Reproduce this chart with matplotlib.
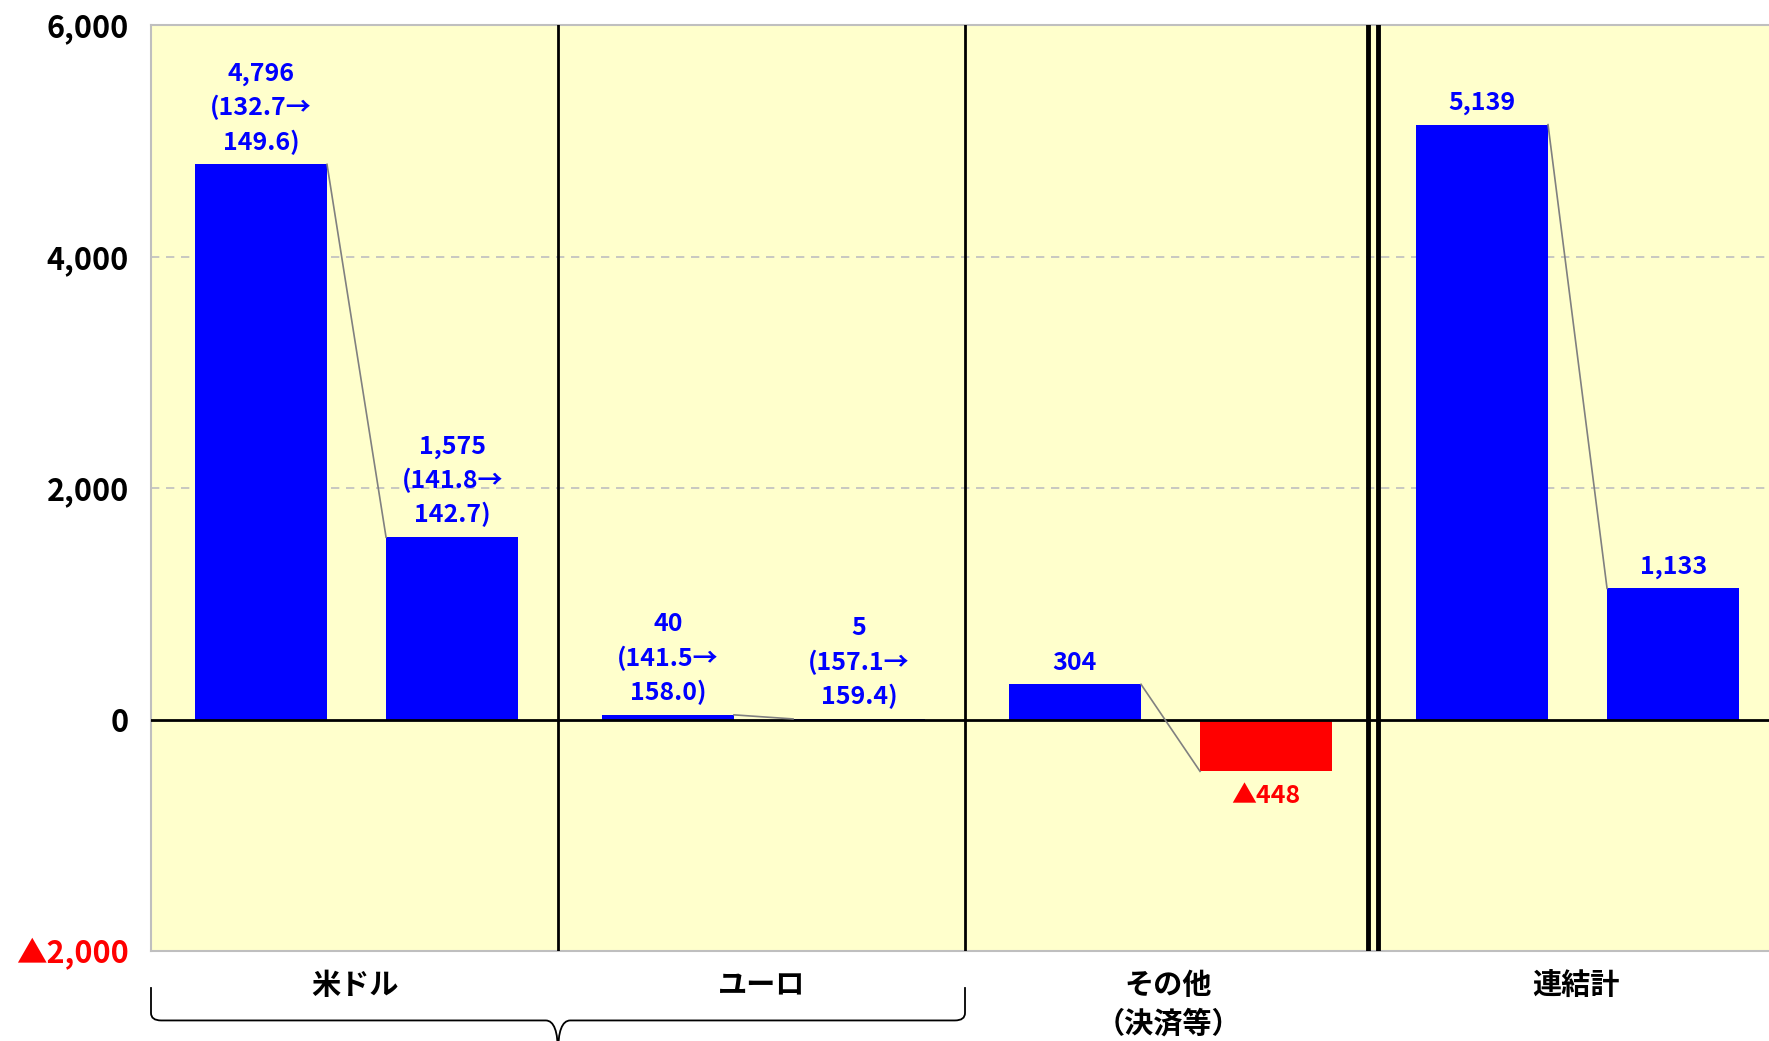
import matplotlib
matplotlib.use("Agg")
import matplotlib.pyplot as plt
from matplotlib.path import Path
import matplotlib.patches as patches
import matplotlib.transforms as mtransforms

plt.rcParams['font.family'] = ['Noto Sans CJK JP', 'DejaVu Sans']

# ---------------------------------------------------------------------------
# Data
# ---------------------------------------------------------------------------
categories = ['米ドル', 'ユーロ', 'その他\n（決済等）', '連結計']
first_values = [4796, 40, 304, 5139]
second_values = [1575, 5, -448, 1133]
first_rates = ['132.7→\n149.6', '141.5→\n158.0', None, None]
second_rates = ['141.8→\n142.7', '157.1→\n159.4', None, None]

y_ticks = [-2000, 0, 2000, 4000, 6000]

# ---------------------------------------------------------------------------
# Style
# ---------------------------------------------------------------------------
BG = '#FFFFCC'
BLUE = '#0000FF'
RED = '#FF0000'
GRID = '#BFBFBF'
BAR_W = 0.325
OFFSETS = (0.27, 0.74)


def fmt_value(v):
    return f'▲{abs(v):,}' if v < 0 else f'{v:,}'


fig = plt.figure(figsize=(17.69, 10.41), dpi=100)
ax = fig.add_axes([151 / 1769, 90 / 1041, 1618 / 1769, 926 / 1041])
ax.set_facecolor(BG)
ax.set_xlim(0, 1618 / 407)
ax.set_ylim(-2000, 6000)

# grid + zero line
for yv in (2000, 4000):
    ax.axhline(yv, color=GRID, lw=1.2, ls=(0, (5, 4)), zorder=1)
ax.axhline(0, color='black', lw=2, zorder=4)

# group separators
ax.axvline(1, color='black', lw=2, zorder=4)
ax.axvline(2, color='black', lw=2, zorder=4)
ax.axvline(2.99, color='black', lw=3.5, zorder=4)
ax.axvline(3.015, color='black', lw=3.5, zorder=4)

for g in range(len(categories)):
    vals = (first_values[g], second_values[g])
    rates = (first_rates[g], second_rates[g])
    xs = [g + o for o in OFFSETS]
    colors = [BLUE if v >= 0 else RED for v in vals]
    ax.bar(xs, vals, width=BAR_W, color=colors, zorder=3)
    # connector
    ax.plot([xs[0] + BAR_W / 2, xs[1] - BAR_W / 2], vals,
            color='#808080', lw=1.2, zorder=5)
    for x, v, r, c in zip(xs, vals, rates, colors):
        txt = fmt_value(v) if r is None else f'{fmt_value(v)}\n({r})'
        if v >= 0:
            ax.annotate(txt, (x, v), xytext=(0, 7), textcoords='offset points',
                        ha='center', va='bottom', color=c, fontsize=18,
                        fontweight='bold', linespacing=1.45, zorder=6)
        else:
            ax.annotate(txt, (x, v), xytext=(0, -9), textcoords='offset points',
                        ha='center', va='top', color=c, fontsize=18,
                        fontweight='bold', zorder=6)

# axes / ticks
ax.set_yticks(y_ticks)
ax.set_yticklabels([fmt_value(t) for t in y_ticks], fontsize=22,
                   fontweight='bold')
ax.get_yticklabels()[0].set_color(RED)
ax.tick_params(axis='y', length=0, pad=16)
ax.set_xticks([g + 0.5 for g in range(len(categories))])
ax.set_xticklabels(categories, fontsize=21, fontweight='bold', linespacing=1.35)
ax.tick_params(axis='x', length=0, pad=14)

for side in ('left', 'top', 'bottom'):
    ax.spines[side].set_color(GRID)
    ax.spines[side].set_linewidth(1.5)
ax.spines['right'].set_visible(False)

# brace under 米ドル + ユーロ
trans = mtransforms.blended_transform_factory(ax.transData, ax.transAxes)
top, mid, tip = -0.039, -0.075, -0.11
verts = [(0, top), (0, mid + 0.008), (0, mid), (0.025, mid), (0.97, mid),
         (1.0, mid), (1.0, tip),
         (1.0, tip), (1.0, mid), (1.03, mid), (1.975, mid),
         (2.0, mid), (2.0, mid + 0.008), (2.0, top)]
codes = [Path.MOVETO, Path.LINETO, Path.CURVE3, Path.CURVE3, Path.LINETO,
         Path.CURVE3, Path.CURVE3,
         Path.MOVETO, Path.CURVE3, Path.CURVE3, Path.LINETO,
         Path.CURVE3, Path.CURVE3, Path.LINETO]
ax.add_patch(patches.PathPatch(Path(verts, codes), transform=trans,
                               fill=False, lw=1.3, color='black',
                               clip_on=False))

fig.savefig('out.png', dpi=100)
